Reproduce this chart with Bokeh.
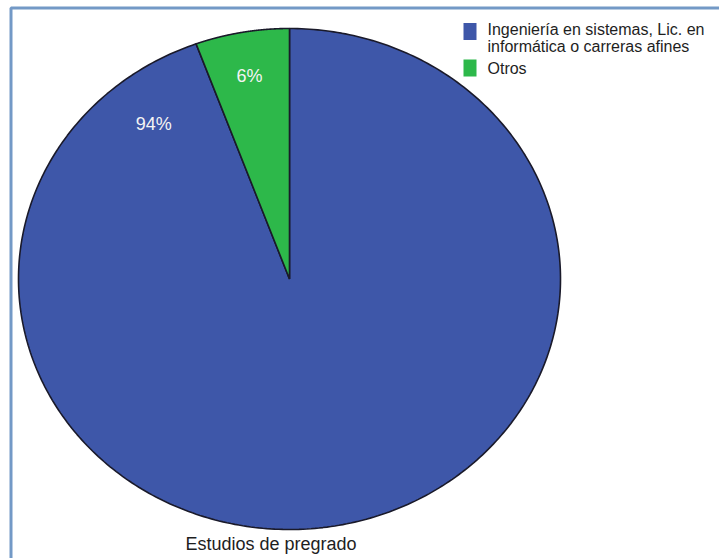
import numpy as np
from bokeh.plotting import figure
from bokeh.models import Range1d, ColumnDataSource
from bokeh.core.properties import value
from bokeh.embed import file_html
from bokeh.resources import INLINE

# ---- data ----
categories = ["Ingeniería en sistemas, Lic. en\ninformática o carreras afines", "Otros"]
values = [94.4, 5.6]
colors = ["#3e57a9", "#2db84a"]
title_text = "Estudios de pregrado"

# ---- layout (pixels) ----
W, H = 719, 558
cx, cy = 289.0, 278.5
rx, ry = 271.0, 250.5

p = figure(width=W, height=H, output_backend="svg", toolbar_location=None,
           x_range=Range1d(0, W), y_range=Range1d(H, 0), min_border=0)
p.axis.visible = False
p.grid.visible = False
p.outline_line_color = None
p.background_fill_color = "white"

# frame lines
p.line([10.5, 10.5, W], [H, 7.5, 7.5], line_color="#7399c6", line_width=3)

# pie slices: start at top, going counter-clockwise, "Otros" first
vals = np.array(values, dtype=float)
frac = vals / vals.sum()
order = [1, 0]
start = np.pi / 2
xs, ys = {}, {}
mids = {}
for i in order:
    end = start + frac[i] * 2 * np.pi
    t = np.linspace(start, end, 400)
    px = np.concatenate([[cx], cx + rx * np.cos(t), [cx]])
    py = np.concatenate([[cy], cy - ry * np.sin(t), [cy]])
    xs[i], ys[i] = px.tolist(), py.tolist()
    mids[i] = (start + end) / 2
    start = end
src = ColumnDataSource(dict(xs=[xs[0], xs[1]], ys=[ys[0], ys[1]], color=colors))
p.patches("xs", "ys", source=src, fill_color="color", line_color="#1a1a2a", line_width=1.6)

# percentage labels
label_angles = {0: np.deg2rad(90 + 39), 1: None}
label_rfrac = {0: 0.79, 1: 0.82}
lx, ly, lt = [], [], []
for i in range(len(values)):
    a = label_angles[i] if label_angles[i] is not None else mids[i]
    lx.append(cx + label_rfrac[i] * rx * np.cos(a) - 1)
    ly.append(cy - label_rfrac[i] * ry * np.sin(a) - 1)
    lt.append(f"{values[i]:.0f}%")
p.text(lx, ly, text=lt, text_color="#f4f4f4", text_font=value("Liberation Sans"),
       text_font_size="18px", text_align="center", text_baseline="middle")

# legend
sq_x, sq_w, sq_h = 469.5, 13, 17
leg_y = [31, 67.5]
p.rect([sq_x] * 2, leg_y, width=sq_w, height=sq_h, fill_color=colors, line_color=None)
text_y = [20, 59]
p.text([487] * 2, text_y, text=categories, text_color="#1e1e1e",
       text_font=value("Liberation Sans"), text_font_size="16px",
       text_align="left", text_baseline="top", text_line_height=1.0)

# bottom title
p.text([270.5], [543], text=[title_text], text_color="#1e1e1e",
       text_font=value("Liberation Sans"), text_font_size="18px",
       text_align="center", text_baseline="middle")

open("out.html", "w").write(file_html(p, INLINE))
